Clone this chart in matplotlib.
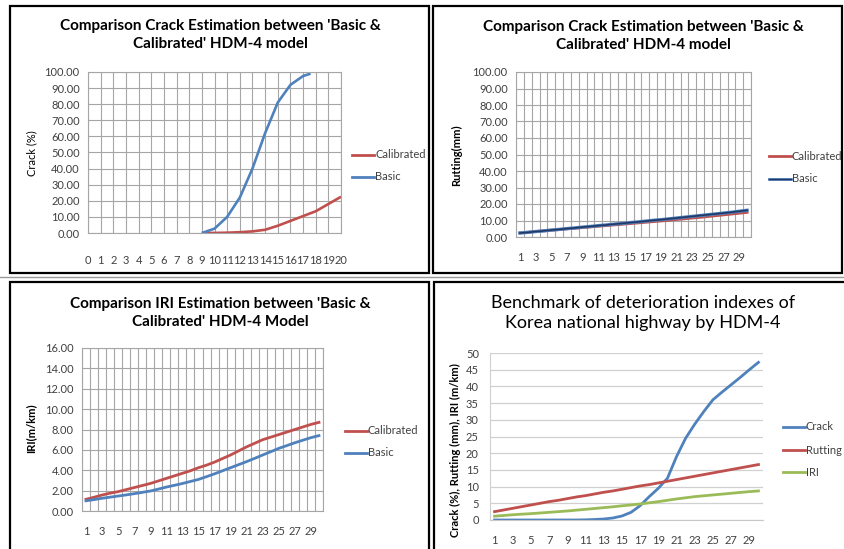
import matplotlib
matplotlib.use("Agg")
import numpy as np
import matplotlib.pyplot as plt
from matplotlib.lines import Line2D

plt.rcParams['font.family'] = ['Lato', 'DejaVu Sans']

W, H = 844, 549

RED = '#C0504D'
BLUE = '#4F81BD'
GREEN = '#9BBB59'
NAVY = '#203864'
GRID = '#A6A6A6'
TXT = '#404040'

# --- panel 1: crack, x is year 0..20
crack_cal_x = [9, 10, 11, 12, 13, 14, 15, 16, 17, 18, 19, 20]
crack_cal = [0.0, 0.05, 0.2, 0.5, 1.0, 2.0, 4.5, 7.5, 10.5, 13.5, 18.0, 22.5]
crack_basic_x = [9, 10, 11, 12, 13, 14, 15, 16, 17, 17.6]
crack_basic = [0.0, 2.7, 10.0, 22.0, 40.0, 62.0, 81.0, 92.0, 97.5, 99.0]

# --- years 1..30 for the other panels
years = list(range(1, 31))
rut_cal = [2.5, 2.9, 3.3, 3.7, 4.1, 4.5, 4.9, 5.3, 5.7, 6.1, 6.5, 6.9, 7.3, 7.7, 8.1,
           8.5, 8.9, 9.3, 9.7, 10.1, 10.6, 11.0, 11.5, 11.9, 12.4, 12.9, 13.4, 13.9, 14.4, 14.9]
rut_basic = [2.4, 2.8, 3.3, 3.7, 4.2, 4.6, 5.1, 5.5, 6.0, 6.4, 6.9, 7.3, 7.8, 8.2, 8.7,
             9.1, 9.6, 10.1, 10.5, 11.0, 11.5, 12.0, 12.5, 13.0, 13.5, 14.0, 14.5, 15.0, 15.6, 16.2]
iri_cal = [1.15, 1.35, 1.57, 1.75, 1.9, 2.1, 2.3, 2.5, 2.7, 2.95, 3.2, 3.45, 3.7, 3.95, 4.25,
           4.5, 4.8, 5.15, 5.5, 5.9, 6.3, 6.65, 7.0, 7.25, 7.5, 7.75, 8.0, 8.25, 8.5, 8.7]
iri_basic = [1.0, 1.12, 1.25, 1.36, 1.47, 1.58, 1.7, 1.83, 1.96, 2.15, 2.35, 2.52, 2.7, 2.9, 3.1,
             3.37, 3.65, 3.95, 4.25, 4.55, 4.85, 5.17, 5.5, 5.82, 6.15, 6.42, 6.7, 6.95, 7.2, 7.4]
bench_crack = [0, 0, 0, 0, 0, 0, 0, 0, 0, 0, 0.05, 0.15, 0.3, 0.6, 1.2,
               2.3, 4.3, 7.0, 9.5, 12.5, 19.0, 24.5, 28.7, 32.5, 36.0, 38.3, 40.5, 42.7, 45.0, 47.2]
bench_rut = [2.5, 3.0, 3.5, 4.0, 4.5, 5.0, 5.5, 5.9, 6.4, 6.9, 7.3, 7.8, 8.3, 8.7, 9.2,
             9.7, 10.2, 10.6, 11.1, 11.6, 12.1, 12.6, 13.1, 13.6, 14.1, 14.6, 15.1, 15.6, 16.1, 16.6]
bench_iri = iri_cal

fig = plt.figure(figsize=(W / 100, H / 100), dpi=100)


def box(l, t, r, b):
    return [l / W, 1 - b / H, (r - l) / W, (b - t) / H]


def frame(l, t, r, b):
    fig.add_artist(plt.Rectangle((l / W, 1 - b / H), (r - l) / W, (b - t) / H,
                                 transform=fig.transFigure, fill=False,
                                 edgecolor='black', lw=1.6))


def legend_item(x, y, color, label, dark=None):
    fig.add_artist(Line2D([x / W, (x + 22) / W], [1 - y / H, 1 - y / H],
                          transform=fig.transFigure, color=color, lw=2))
    if dark:
        fig.add_artist(Line2D([x / W, (x + 22) / W], [1 - y / H, 1 - y / H],
                              transform=fig.transFigure, color=dark, lw=1))
    fig.text((x + 23) / W, 1 - y / H, label, fontsize=8, color=TXT, va='center', ha='left')


def style(ax):
    ax.tick_params(length=0, labelsize=8, labelcolor=TXT)
    for s in ax.spines.values():
        s.set_color(GRID)
        s.set_linewidth(0.8)


frame(10, 6, 429, 273)
frame(433, 6, 842, 273)
frame(10, 282, 429, 552)
frame(434, 282, 846, 552)
fig.add_artist(Line2D([0, 1], [1 - 277 / H, 1 - 277 / H], transform=fig.transFigure,
                      color='#999999', lw=1))

# ---------- top left
ax1 = fig.add_axes(box(88, 72, 341, 233))
ax1.plot(crack_cal_x, crack_cal, color=RED, lw=1.9, solid_capstyle='butt')
ax1.plot(crack_basic_x, crack_basic, color=BLUE, lw=1.9, solid_capstyle='butt')
ax1.set_xlim(0, 20)
ax1.set_ylim(0, 100)
ax1.set_xticks(range(0, 21))
ax1.set_yticks(range(0, 101, 10))
ax1.set_yticklabels(['%.2f' % v for v in range(0, 101, 10)])
ax1.grid(True, color=GRID, lw=0.8)
ax1.set_axisbelow(True)
style(ax1)
ax1.tick_params(axis='x', pad=16)
ax1.tick_params(axis='y', pad=6)
fig.text(220 / W, 1 - 35 / H, "Comparison Crack Estimation between 'Basic &\nCalibrated' HDM-4 model",
         ha='center', va='center', fontsize=11, fontweight='bold', linespacing=1.35)
fig.text(32 / W, 1 - 153 / H, 'Crack (%)', rotation=90, ha='center', va='center', fontsize=8)
legend_item(352, 155, RED, 'Calibrated')
legend_item(352, 177, BLUE, 'Basic')

# ---------- top right
ax2 = fig.add_axes(box(516, 72, 751, 237))
ax2.plot(years, rut_cal, color=RED, lw=2)
ax2.plot(years, rut_basic, color=BLUE, lw=2.4)
ax2.plot(years, rut_basic, color=NAVY, lw=1.2)
ax2.set_xlim(0.5, 30.5)
ax2.set_ylim(0, 100)
ax2.set_xticks(range(1, 31, 2))
ax2.set_xticks(np.arange(0.5, 31, 1), minor=True)
ax2.set_yticks(range(0, 101, 10))
ax2.set_yticklabels(['%.2f' % v for v in range(0, 101, 10)])
ax2.grid(True, which='minor', axis='x', color=GRID, lw=0.8)
ax2.grid(True, which='major', axis='y', color=GRID, lw=0.8)
ax2.set_axisbelow(True)
style(ax2)
ax2.tick_params(which='minor', length=0)
ax2.tick_params(axis='x', pad=11)
ax2.tick_params(axis='y', pad=6)
fig.text(643 / W, 1 - 36 / H, "Comparison Crack Estimation between 'Basic &\nCalibrated' HDM-4 model",
         ha='center', va='center', fontsize=11, fontweight='bold', linespacing=1.35)
fig.text(457 / W, 1 - 155 / H, 'Rutting(mm)', rotation=90, ha='center', va='center',
         fontsize=8, fontweight='bold')
legend_item(769, 156, RED, 'Calibrated')
legend_item(769, 179, BLUE, 'Basic', dark=NAVY)

# ---------- bottom left
ax3 = fig.add_axes(box(82, 348, 323, 511))
ax3.plot(years, iri_cal, color=RED, lw=2)
ax3.plot(years, iri_basic, color=BLUE, lw=2)
ax3.set_xlim(0.5, 30.5)
ax3.set_ylim(0, 16)
ax3.set_xticks(range(1, 31, 2))
ax3.set_xticks(np.arange(0.5, 31, 1), minor=True)
ax3.set_yticks(range(0, 17, 2))
ax3.set_yticklabels(['%.2f' % v for v in range(0, 17, 2)])
ax3.grid(True, which='minor', axis='x', color=GRID, lw=0.8)
ax3.grid(True, which='major', axis='y', color=GRID, lw=0.8)
ax3.set_axisbelow(True)
style(ax3)
ax3.tick_params(which='minor', length=0)
ax3.tick_params(axis='x', pad=11)
ax3.tick_params(axis='y', pad=6)
fig.text(220 / W, 1 - 313 / H, "Comparison IRI Estimation between 'Basic &\nCalibrated' HDM-4 Model",
         ha='center', va='center', fontsize=11, fontweight='bold', linespacing=1.35)
fig.text(31 / W, 1 - 428 / H, 'IRI(m/km)', rotation=90, ha='center', va='center',
         fontsize=8, fontweight='bold')
legend_item(345, 431, RED, 'Calibrated')
legend_item(345, 453, BLUE, 'Basic')

# ---------- bottom right
ax4 = fig.add_axes(box(490, 353, 763, 520))
ax4.plot(years, bench_crack, color=BLUE, lw=2)
ax4.plot(years, bench_rut, color=RED, lw=2)
ax4.plot(years, bench_iri, color=GREEN, lw=2)
ax4.set_xlim(0.5, 30.5)
ax4.set_ylim(0, 50)
ax4.set_xticks(range(1, 31, 2))
ax4.set_yticks(range(0, 51, 5))
ax4.grid(True, axis='y', color='#D0D0D0', lw=0.9)
ax4.set_axisbelow(True)
style(ax4)
ax4.spines['top'].set_visible(False)
ax4.spines['right'].set_visible(False)
ax4.spines['left'].set_color('#D0D0D0')
ax4.spines['bottom'].set_color('#C8C8C8')
ax4.tick_params(axis='x', pad=11)
ax4.tick_params(axis='y', pad=8)
fig.text(643 / W, 1 - 313 / H, "Benchmark of deterioration indexes of\nKorea national highway by HDM-4",
         ha='center', va='center', fontsize=13, linespacing=1.3)
fig.text(455 / W, 1 - 450 / H, 'Crack (%), Rutting (mm), IRI (m/km)', rotation=90,
         ha='center', va='center', fontsize=8, fontweight='bold')
legend_item(783, 427, BLUE, 'Crack')
legend_item(783, 450, RED, 'Rutting')
legend_item(783, 472, GREEN, 'IRI')

fig.savefig('out.png', dpi=100)
